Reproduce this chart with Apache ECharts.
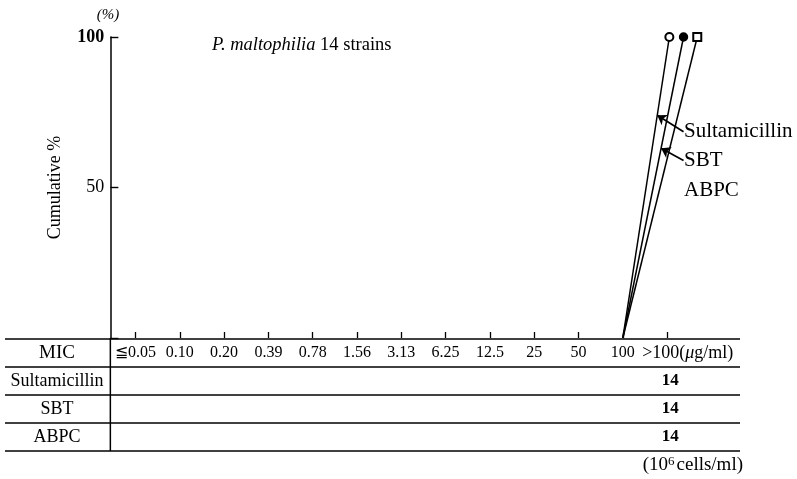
<!DOCTYPE html>
<html>
<head>
<meta charset="utf-8">
<script src="https://cdn.jsdelivr.net/npm/echarts@6/dist/echarts.min.js"></script>
<style>html,body{margin:0;padding:0;background:#fff}#c{width:797px;height:479px}</style>
</head>
<body>
<div id="c"></div>
<script>
// ---- data ----
const micLabels = ['≦0.05','0.10','0.20','0.39','0.78','1.56','3.13','6.25','12.5','25','50','100','>100'];
const drugNames = ['Sultamicillin','SBT','ABPC'];
const sultamicillinCounts = [0,0,0,0,0,0,0,0,0,0,0,0,14];
const sbtCounts           = [0,0,0,0,0,0,0,0,0,0,0,0,14];
const abpcCounts          = [0,0,0,0,0,0,0,0,0,0,0,0,14];
const yTicks = [0,50,100];

// ---- style ----
const FONT = 'Liberation Serif';
const INK = '#000';
const counts = [sultamicillinCounts, sbtCounts, abpcCounts];
const symbols = ['emptyCircle','circle','emptyRect'];
const jitter = [0.05, 0.37, 0.68];   // horizontal separation of overlapping end markers
const micIdx = micLabels.map((_,i)=>i);

function cumulative(arr){
  const total = arr.reduce((a,b)=>a+b,0);
  let s = 0;
  return arr.map(v => { s += v; return s/total*100; });
}
function lineData(arr, k){
  const cum = cumulative(arr);
  const first = cum.findIndex(v => v > 0);
  const out = [];
  for (let i = Math.max(first-1,0); i < cum.length; i++){
    const v = cum[i];
    out.push({value:[v>0 ? i + jitter[k] : i, v], symbol: v>0 ? symbols[k] : 'none'});
  }
  return out;
}

const chart = echarts.init(document.getElementById('c'), null, {renderer:'canvas'});

const series = drugNames.map((name,k) => ({
  name, type:'line',
  data: lineData(counts[k], k),
  clip:false, symbolSize:8,
  lineStyle:{color:INK, width:1.5},
  itemStyle:{color:INK, borderColor:INK, borderWidth:1.4},
  z: 5
}));

function along(k, frac){ // point on the k-th drug line at a fraction of its rise
  const d = series[k].data;
  const a = d[d.length-2].value, b = d[d.length-1].value;
  return [a[0] + (b[0]-a[0])*frac, a[1] + (b[1]-a[1])*frac];
}
series[0].markLine = {
  silent:true, symbol:['none','arrow'], symbolSize:9, animation:false,
  lineStyle:{color:INK, width:1.7, type:'solid'}, label:{show:false},
  data:[
    [{coord:[12.37,68.5]},{coord:along(0,0.74)}],
    [{coord:[12.37,59.0]},{coord:along(1,0.63)}]
  ]
};

chart.setOption({
  animation:false,
  backgroundColor:'#fff',
  textStyle:{fontFamily:FONT},
  grid:{left:113.35, right:76.7, top:37, bottom:141, containLabel:false},
  xAxis:{type:'value', min:-0.5, max:13.2,
     axisLine:{show:false},
     splitLine:{show:false},
     axisTick:{show:true, inside:true, length:6, customValues:micIdx, lineStyle:{color:INK, width:1.3}},
     axisLabel:{margin:7, fontSize:16, fontFamily:FONT, color:INK, customValues:micIdx.slice(0,-1),
                formatter:v => micLabels[Math.round(v)]}},
  yAxis:{type:'value', min:yTicks[0], max:yTicks[yTicks.length-1], interval:50, offset:3,
    axisLine:{show:true, onZero:false, lineStyle:{color:INK, width:1.5}},
    axisTick:{show:true, inside:true, length:8, lineStyle:{color:INK, width:1.4}},
    axisLabel:{margin:6, fontSize:18, fontFamily:FONT, color:INK,
      formatter:v => v===0 ? '' : (v===100 ? '{b|'+v+'}' : ''+v),
      rich:{b:{fontWeight:'bold', fontSize:18, fontFamily:FONT}}},
    splitLine:{show:false},
    name:'Cumulative %', nameLocation:'middle', nameGap:46, nameRotate:90,
    nameTextStyle:{fontSize:18, fontFamily:FONT, color:INK}},
  series
});

const px = x => chart.convertToPixel({xAxisIndex:0}, x);
const py = y => chart.convertToPixel({yAxisIndex:0}, y);

const g = [];
const baseY = py(0);
const rowH = 28;
const tableLeft = 5, tableRight = 740, colX = px(-0.5) - 3;
for (let r = 0; r <= 4; r++){
  const y = baseY + 1 + r*rowH;
  g.push({type:'line', shape:{x1:tableLeft, y1:y, x2:tableRight, y2:y}, style:{stroke:INK, lineWidth:1.6}});
}
g.push({type:'line', shape:{x1:colX, y1:baseY, x2:colX, y2:baseY+1+4*rowH}, style:{stroke:INK, lineWidth:1.5}});
const rowHeads = ['MIC'].concat(drugNames);
rowHeads.forEach((t,r) => {
  g.push({type:'text', x:57, y:baseY+1+rowH*(r+0.5), style:{text:t, font:(r===0?'19px ':'18px ')+FONT, fill:INK, align:'center', verticalAlign:'middle'}});
});
g.push({type:'text', x:px(micLabels.length-1)-25, y:baseY+1+rowH*0.5,
  style:{text:'>100({i|μ}g/ml)', font:'18px '+FONT, fill:INK, verticalAlign:'middle',
    rich:{i:{font:'italic 18px '+FONT, fill:INK}}}});
counts.forEach((arr,r) => arr.forEach((v,i) => {
  if (v > 0) g.push({type:'text', x:px(i)+3, y:baseY+1+rowH*(r+1.5),
    style:{text:String(v), font:'bold 17px '+FONT, fill:INK, align:'center', verticalAlign:'middle'}});
}));
g.push({type:'text', x:tableRight+3, y:baseY+1+rowH*4+14, style:{text:'(10{s|6}cells/ml)', font:'19px '+FONT, fill:INK, align:'right', verticalAlign:'middle',
  rich:{s:{font:'13px '+FONT, fill:INK, verticalAlign:'top', padding:[0,2,7,0]}}}});
g.push({type:'text', x:212, y:45, style:{text:'{i|P. maltophilia} 14 strains', font:'18.5px '+FONT, fill:INK, verticalAlign:'middle',
  rich:{i:{font:'italic 18.5px '+FONT, fill:INK}}}});
g.push({type:'text', x:108, y:15, style:{text:'(%)', font:'italic 15px '+FONT, fill:INK, align:'center', verticalAlign:'middle'}});
const labelPos = [[12.38,68.5],[12.38,59.0],[12.38,49.0]];
drugNames.forEach((t,k) => {
  g.push({type:'text', x:px(labelPos[k][0]), y:py(labelPos[k][1]), style:{text:t, font:'21px '+FONT, fill:INK, verticalAlign:'middle'}});
});

chart.setOption({graphic:g});
</script>
</body>
</html>
